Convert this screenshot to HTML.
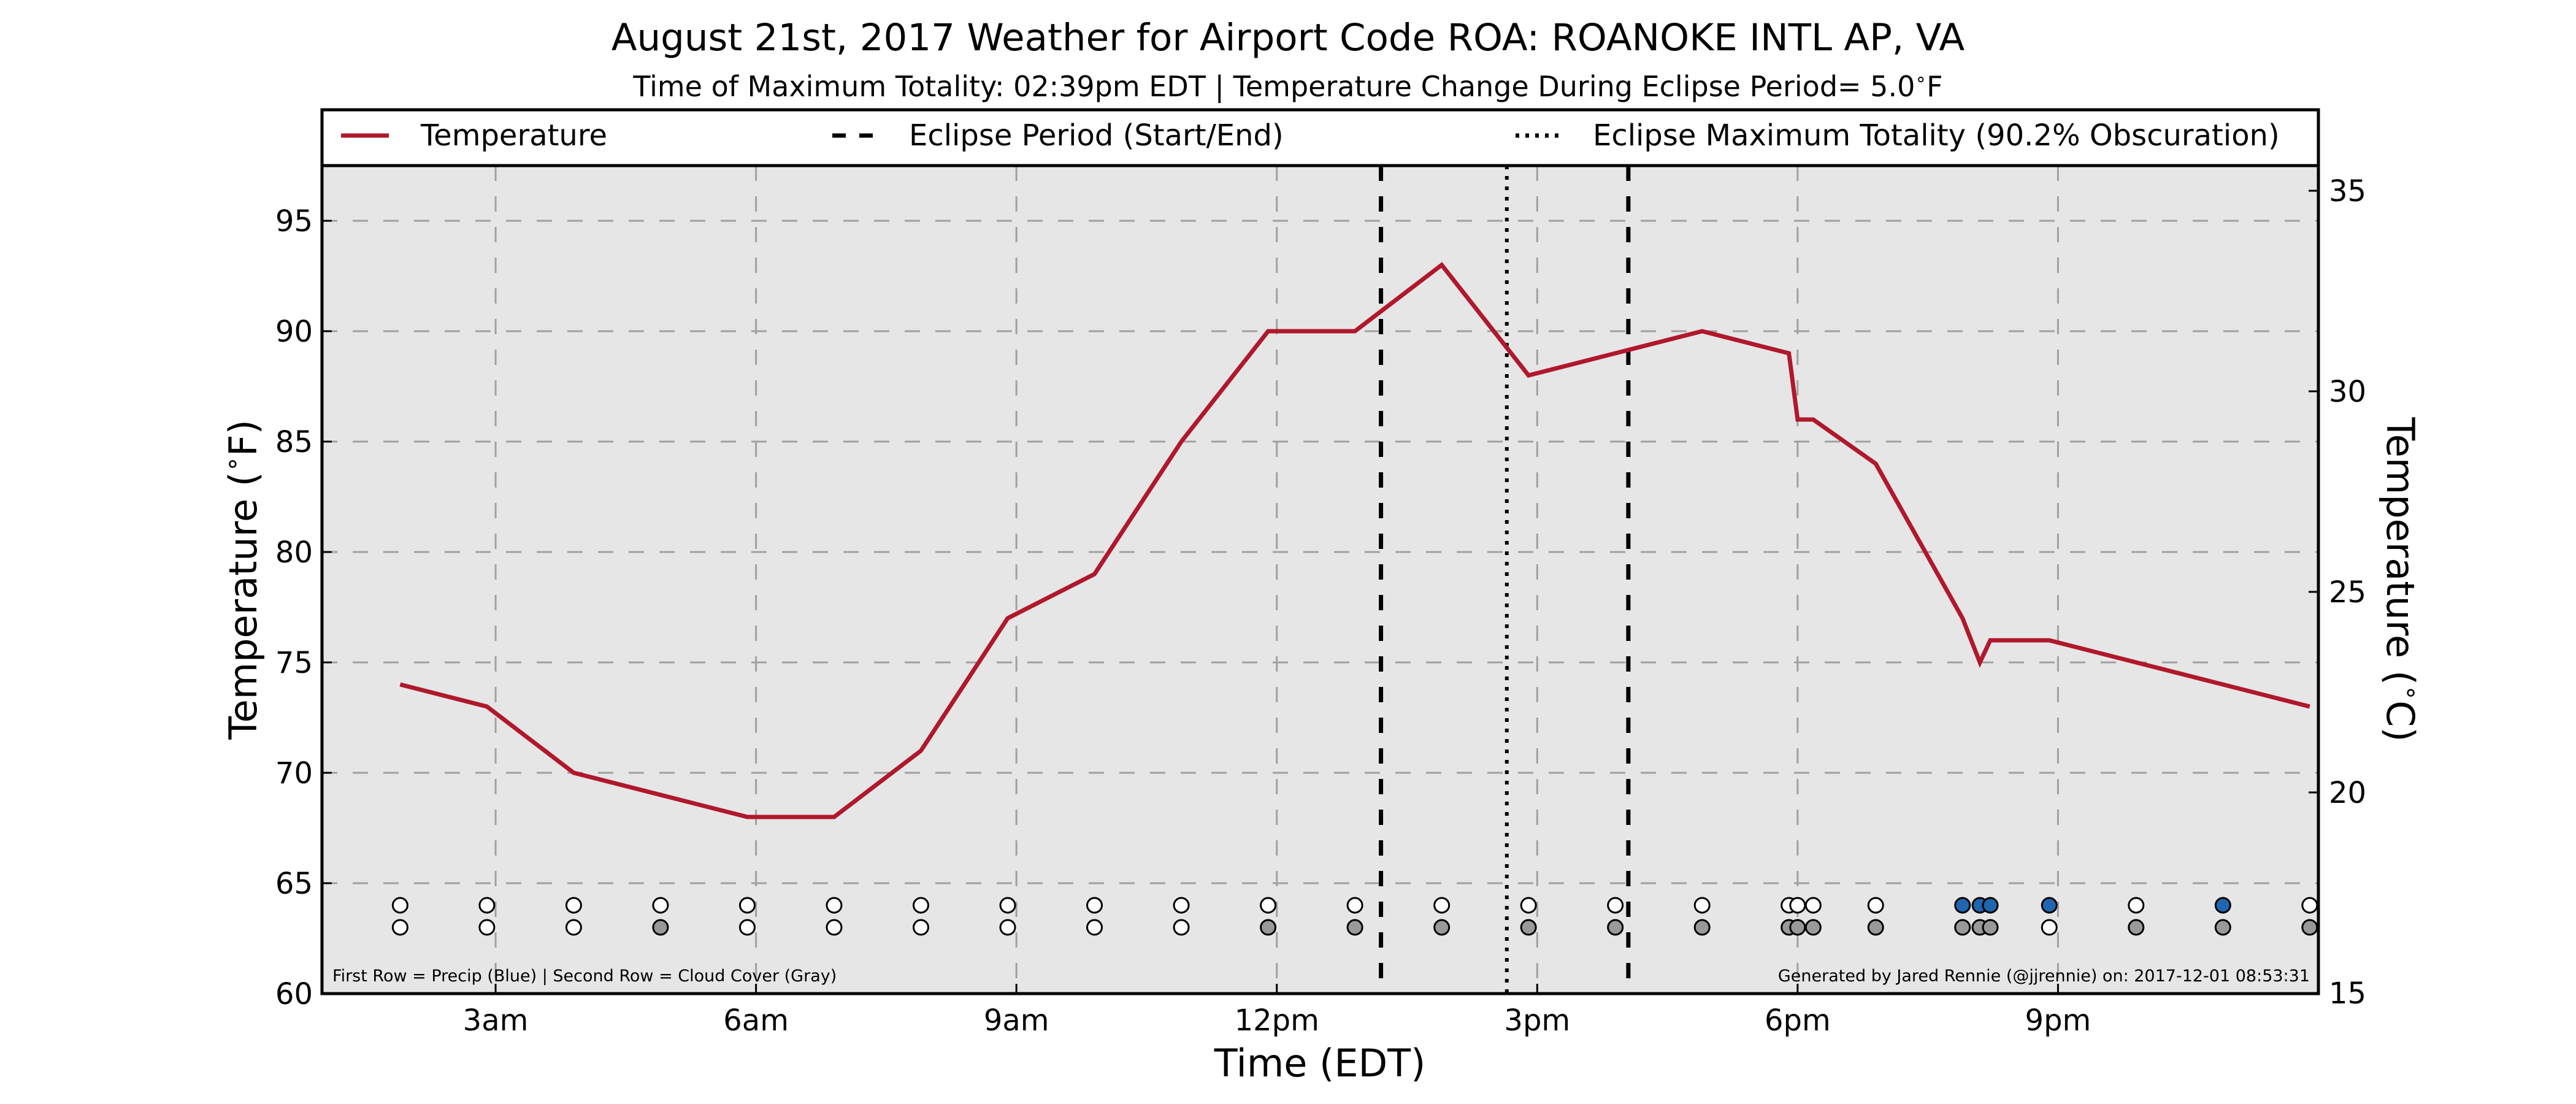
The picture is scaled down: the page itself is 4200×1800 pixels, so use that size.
<!DOCTYPE html>
<html><head><meta charset="utf-8"><style>
html,body{margin:0;padding:0;background:#fff}
svg{display:block;font-family:"DejaVu Sans","Liberation Sans",sans-serif}
</style></head><body>
<svg id="chart" width="4200" height="1800" viewBox="0 0 4200 1800" xmlns="http://www.w3.org/2000/svg">
<text x="2100" y="82" font-size="61" text-anchor="middle">August 21st, 2017 Weather for Airport Code ROA: ROANOKE INTL AP, VA</text>
<text x="2100" y="157" font-size="46" text-anchor="middle">Time of Maximum Totality: 02:39pm EDT | Temperature Change During Eclipse Period= 5.0<tspan font-size="30" dy="-18">∘</tspan><tspan dy="18">F</tspan></text>
<rect x="525" y="270" width="3255" height="1350" fill="#e6e6e6"/>
<g id="grid"></g>
<g id="marks"></g>
<rect x="525" y="270" width="3255" height="1350" fill="none" stroke="#000" stroke-width="5"/>
<g id="axes"></g>
<g>
<rect x="525" y="179" width="3255" height="91" fill="#fff" stroke="#000" stroke-width="5"/>
<line x1="556" y1="221" x2="634" y2="221" stroke="#b0182c" stroke-width="7"/>
<text x="686" y="237" font-size="48">Temperature</text>
<line x1="1357" y1="221" x2="1428" y2="221" stroke="#000" stroke-width="7" stroke-dasharray="22 22"/>
<text x="1482" y="237" font-size="48">Eclipse Period (Start/End)</text>
<line x1="2471" y1="221" x2="2541" y2="221" stroke="#000" stroke-width="7" stroke-dasharray="6 10"/>
<text x="2597" y="237" font-size="48">Eclipse Maximum Totality (90.2% Obscuration)</text>
</g>
<text x="542" y="1600" font-size="27">First Row = Precip (Blue) | Second Row = Cloud Cover (Gray)</text>
<text x="3766" y="1600" font-size="27" text-anchor="end">Generated by Jared Rennie (@jjrennie) on: 2017-12-01 08:53:31</text>
<text x="2152" y="1755" font-size="62" text-anchor="middle">Time (EDT)</text>
<text transform="translate(418,945) rotate(-90)" font-size="62" text-anchor="middle">Temperature (<tspan font-size="40" dy="-26">∘</tspan><tspan dy="26">F)</tspan></text>
<text transform="translate(3892,945) rotate(90)" font-size="62" text-anchor="middle">Temperature (<tspan font-size="40" dy="-26">∘</tspan><tspan dy="26">C)</tspan></text>
</svg>
<script>
const times=[1.9,2.9,3.9,4.9,5.9,6.9,7.9,8.9,9.9,10.9,11.9,12.9,13.9,14.9,15.9,16.9,17.9,18.0,18.18,18.9,19.9,20.1,20.22,20.9,21.9,22.9,23.9];
const temps=[74,73,70,69,68,68,71,77,79,85,90,90,93,88,89,90,89,86,86,84,77,75,76,76,75,74,73];
const precip=[0,0,0,0,0,0,0,0,0,0,0,0,0,0,0,0,0,0,0,0,1,1,1,1,0,1,0];
const cloud=[0,0,0,1,0,0,0,0,0,0,1,1,1,1,1,1,1,1,1,1,1,1,1,0,1,1,1];
const xTicks=[3,6,9,12,15,18,21];
const xTickLabels=["3am","6am","9am","12pm","3pm","6pm","9pm"];
const yTicks=[60,65,70,75,80,85,90,95];
const cTicks=[15,20,25,30,35];
const eclipseStart=13.2, eclipseMax=14.65, eclipseEnd=16.05;
const precipRowValue=64, cloudRowValue=63;

const NS="http://www.w3.org/2000/svg";
const X0=525,X1=3780,Y0=1620,Y1=270;
const xMin=1,xMax=24,yMin=60,yMax=97.5;
function xs(h){return X0+(h-xMin)/(xMax-xMin)*(X1-X0);}
function ys(f){return Y0-(f-yMin)/(yMax-yMin)*(Y0-Y1);}
function yc(c){return 1619-(c-15)*65.4;}
function mk(tag,attrs,parent){const e=document.createElementNS(NS,tag);for(const k in attrs)e.setAttribute(k,attrs[k]);parent.appendChild(e);return e;}
const grid=document.getElementById('grid'),marks=document.getElementById('marks'),axes=document.getElementById('axes');

xTicks.forEach((t,i)=>{
  const g=mk('line',{x1:xs(t),y1:Y1,x2:xs(t),y2:Y0,stroke:'#a0a0a0','stroke-width':3,'stroke-dasharray':'25 25'},grid);
  
  
  const tk=mk('line',{x1:xs(t),y1:Y0,x2:xs(t),y2:Y0-16,stroke:'#000','stroke-width':3},axes);
  
  
  const tx=mk('text',{x:xs(t),y:1680,'font-size':48,'text-anchor':'middle'},axes);
  tx.textContent=xTickLabels[i];
  
  
});
yTicks.forEach(v=>{
  if(v>yMin){const g=mk('line',{x1:X0,y1:ys(v),x2:X1,y2:ys(v),stroke:'#a0a0a0','stroke-width':3,'stroke-dasharray':'25 25'},grid);
  
  }
  const tk=mk('line',{x1:X0,y1:ys(v),x2:X0+16,y2:ys(v),stroke:'#000','stroke-width':3},axes);
  
  
  const tx=mk('text',{x:510,y:ys(v)+17,'font-size':48,'text-anchor':'end'},axes);
  tx.textContent=v;
  
  
});
cTicks.forEach(v=>{
  const tk=mk('line',{x1:X1,y1:yc(v),x2:X1-16,y2:yc(v),stroke:'#000','stroke-width':3},axes);
  
  
  const tx=mk('text',{x:3797,y:yc(v)+17,'font-size':48},axes);
  tx.textContent=v;
  
  
});
[[eclipseStart,'eclipse-start-line','25 25'],[eclipseEnd,'eclipse-end-line','25 25'],[eclipseMax,'eclipse-max-line','6 11']].forEach(e=>{
  const l=mk('line',{x1:xs(e[0]),y1:Y1,x2:xs(e[0]),y2:Y0,stroke:'#000','stroke-width':e[1]==='eclipse-max-line'?6:7,'stroke-dasharray':e[2]},marks);
  
  
});
const pts=times.map((t,i)=>xs(t).toFixed(1)+','+ys(temps[i]).toFixed(1)).join(' ');
const pl=mk('polyline',{points:pts,fill:'none',stroke:'#b0182c','stroke-width':7,'stroke-linejoin':'miter'},marks);


times.forEach((t,i)=>{
  const a=mk('circle',{cx:xs(t),cy:ys(precipRowValue),r:12,fill:precip[i]?'#1f66b0':'#fff',stroke:'#000','stroke-width':3},marks);
  
  
  const b=mk('circle',{cx:xs(t),cy:ys(cloudRowValue),r:12,fill:cloud[i]?'#999':'#fff',stroke:'#000','stroke-width':3},marks);
  
  
});
</script>
</body></html>
